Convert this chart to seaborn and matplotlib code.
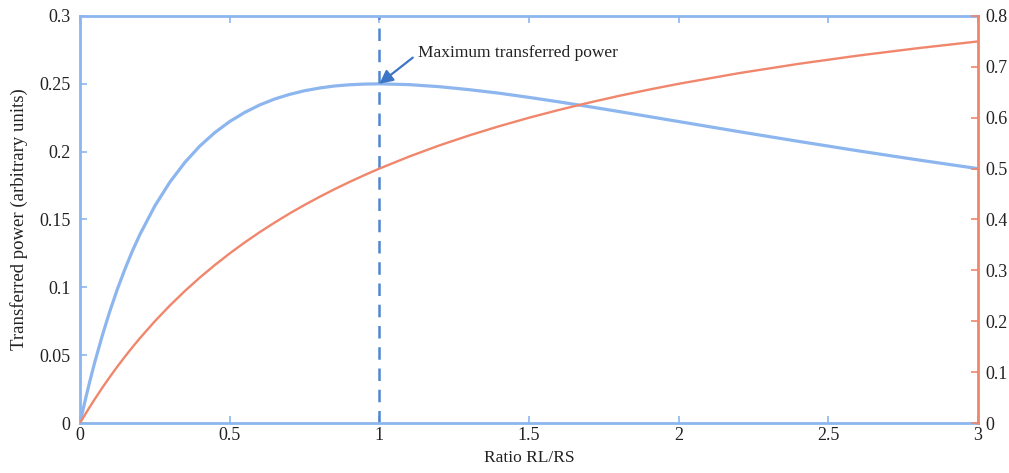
import seaborn as sns
import matplotlib.pyplot as plt
import pandas as pd

# values
ratio = [0, 0.01, 0.02, 0.03, 0.04, 0.05, 0.075, 0.1, 0.125, 0.15, 0.175, 0.2, 0.25, 0.3,
         0.35, 0.4, 0.45, 0.5, 0.55, 0.6, 0.65, 0.7, 0.75, 0.8, 0.85, 0.9, 0.95, 1.0,
         1.1, 1.2, 1.3, 1.4, 1.5, 1.6, 1.7, 1.8, 1.9, 2.0, 2.2, 2.4, 2.6, 2.8, 3.0]
power = [0, 0.0098, 0.0192, 0.0283, 0.0370, 0.0454, 0.0649, 0.0826, 0.0988, 0.1134, 0.1268,
         0.1389, 0.16, 0.1775, 0.1920, 0.2041, 0.2140, 0.2222, 0.2289, 0.2344, 0.2388,
         0.2422, 0.2449, 0.2469, 0.2484, 0.2493, 0.2498, 0.25,
         0.2494, 0.2479, 0.2457, 0.2431, 0.24, 0.2367, 0.2332, 0.2296, 0.2259, 0.2222,
         0.2148, 0.2076, 0.2006, 0.1939, 0.1875]
efficiency = [0, 0.0099, 0.0196, 0.0291, 0.0385, 0.0476, 0.0698, 0.0909, 0.1111, 0.1304,
              0.1489, 0.1667, 0.2, 0.2308, 0.2593, 0.2857, 0.3103, 0.3333, 0.3548, 0.375,
              0.3939, 0.4118, 0.4286, 0.4444, 0.4595, 0.4737, 0.4872, 0.5,
              0.5238, 0.5455, 0.5652, 0.5833, 0.6, 0.6154, 0.6296, 0.6429, 0.6552, 0.6667,
              0.6875, 0.7059, 0.7222, 0.7368, 0.75]
x_ticks = [0, 0.5, 1, 1.5, 2, 2.5, 3]
left_ticks = [0, 0.05, 0.1, 0.15, 0.2, 0.25, 0.3]
right_ticks = [0, 0.1, 0.2, 0.3, 0.4, 0.5, 0.6, 0.7, 0.8]
max_ratio = 1.0
max_power = 0.25

BLUE = '#8db6ef'
ORANGE = '#f0866c'
DARK_BLUE = '#4f86d0'

sns.set_theme(style='white')
plt.rcParams['font.family'] = ['Liberation Serif', 'DejaVu Serif']

df = pd.DataFrame({'ratio': ratio, 'power': power, 'efficiency': efficiency})

fig = plt.figure(figsize=(10.09, 4.73), dpi=100)
ax = fig.add_axes([0.0793, 0.1057, 0.8900, 0.8605])
ax2 = ax.twinx()

sns.lineplot(data=df, x='ratio', y='power', ax=ax, color=BLUE, linewidth=2.3)
sns.lineplot(data=df, x='ratio', y='efficiency', ax=ax2, color=ORANGE, linewidth=1.7)

ax.axvline(max_ratio, color=DARK_BLUE, linewidth=1.8, linestyle=(0, (5, 3.5)))
ax.annotate('Maximum transferred power', xy=(max_ratio, max_power), xytext=(1.13, 0.2725),
            fontsize=12.5, va='center', ha='left', color='#222222',
            arrowprops=dict(arrowstyle='-|>', color='#3d76c4', lw=1.6, shrinkA=2, shrinkB=0,
                            mutation_scale=20, relpos=(0, 0.5)))

ax.set_xlim(0, 3)
ax.set_ylim(0, 0.3)
ax2.set_ylim(0, 0.8)
ax.set_xticks(x_ticks)
ax.set_xticklabels(['0', '0.5', '1', '1.5', '2', '2.5', '3'])
ax.set_yticks(left_ticks)
ax.set_yticklabels(['0', '0.05', '0.1', '0.15', '0.2', '0.25', '0.3'])
ax2.set_yticks(right_ticks)
ax2.set_yticklabels(['0', '0.1', '0.2', '0.3', '0.4', '0.5', '0.6', '0.7', '0.8'])

ax.set_xlabel('Ratio RL/RS', fontsize=12.5, color='#222222', labelpad=4)
ax.set_ylabel('Transferred power (arbitrary units)', fontsize=13.5, color='#222222', labelpad=8)
ax2.set_ylabel('')

ax.tick_params(axis='y', pad=7)
ax.tick_params(axis='x', pad=3)
ax.tick_params(axis='both', direction='in', length=5, width=1.2, color=BLUE,
               labelsize=13, labelcolor='#222222', top=True, right=False, left=True, bottom=True)
ax2.tick_params(axis='y', direction='in', length=5, width=1.2, color=ORANGE, pad=5,
                labelsize=13, labelcolor='#222222', right=True, left=False)

for name in ['left', 'top', 'bottom']:
    ax.spines[name].set_color(BLUE)
    ax.spines[name].set_linewidth(2)
    ax2.spines[name].set_visible(False)
ax.spines['right'].set_visible(False)
ax2.spines['right'].set_color(ORANGE)
ax2.spines['right'].set_linewidth(2)

fig.savefig('out.png', dpi=100)
